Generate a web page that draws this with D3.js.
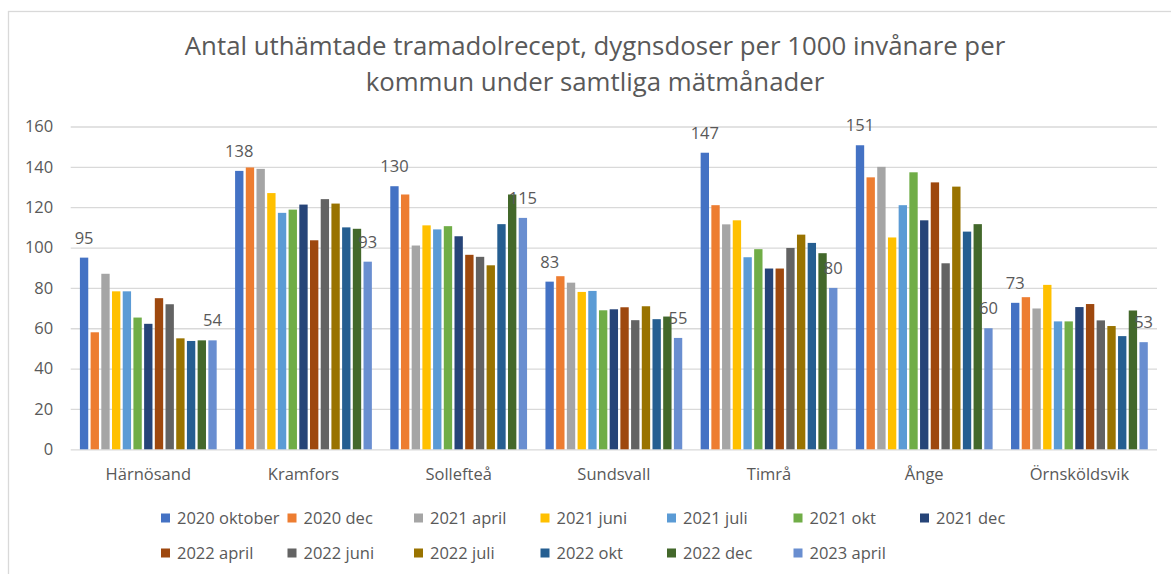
<!DOCTYPE html>
<html>
<head>
<meta charset="utf-8">
<script src="https://cdn.jsdelivr.net/npm/d3@7"></script>
<style>
    body { margin: 0; background: #ffffff; }
    text { font-family: "Open Sans", "Noto Sans", sans-serif; fill: #595959; }
</style>
</head>
<body>
<div id="chart-area"></div>
<script>
// data
var titleLines = ["Antal uthämtade tramadolrecept, dygnsdoser per 1000 invånare per",
    "kommun under samtliga mätmånader"];
var kommuner = ["Härnösand", "Kramfors", "Sollefteå", "Sundsvall", "Timrå", "Ånge", "Örnsköldsvik"];
var matmanader = ["2020 oktober", "2020 dec", "2021 april", "2021 juni", "2021 juli", "2021 okt", "2021 dec",
    "2022 april", "2022 juni", "2022 juli", "2022 okt", "2022 dec", "2023 april"];
var yTicks = [0, 20, 40, 60, 80, 100, 120, 140, 160];

var harnosand    = [95, 58, 87, 78.3, 78.3, 65.3, 62.2, 74.9, 71.9, 55, 53.7, 54, 54];
var kramfors     = [138, 139.7, 139, 127, 117.2, 118.8, 121.3, 103.6, 124, 121.8, 110, 109.3, 93];
var solleftea    = [130.4, 126.3, 101, 111, 109, 110.6, 105.6, 96.4, 95.4, 91.2, 111.6, 126.3, 114.7];
var sundsvall    = [83.1, 85.8, 82.6, 78, 78.5, 68.9, 69.4, 70.4, 64, 70.9, 64.5, 65.8, 55.2];
var timra        = [147, 121, 111.5, 113.5, 95.2, 99.2, 89.6, 89.6, 99.8, 106.4, 102.3, 97.2, 80];
var ange         = [150.7, 134.8, 140, 105, 121, 137.3, 113.5, 132.3, 92.2, 130.2, 107.9, 111.6, 60];
var ornskoldsvik = [72.6, 75.4, 69.8, 81.5, 63.4, 63.4, 70.5, 72, 63.9, 61.1, 56.1, 68.8, 53.1];

var colors = ["#4472C4", "#ED7D31", "#A5A5A5", "#FFC000", "#5B9BD5", "#70AD47", "#264478",
    "#9E480E", "#636363", "#997300", "#255E91", "#43682B", "#698ED0"];

var values = [harnosand, kramfors, solleftea, sundsvall, timra, ange, ornskoldsvik];

BarChart = function(_parentElement){
    vis = this;

    this.parentElement = _parentElement;
    this.svgWidth = 1171;
    this.svgHeight = 574;
    this.margin = { top: 126.5, right: 14, bottom: 124.7, left: 70.7 };
    this.width = vis.svgWidth - vis.margin.left - vis.margin.right;
    this.height = vis.svgHeight - vis.margin.top - vis.margin.bottom;
    this.fontSize = 16.5;

    // one row per kommun, one column per mätmånad
    this.data = kommuner.map(function(k, i) {
        return { kommun: k, values: values[i].map(function(v, j) {
            return { serie: matmanader[j], value: v, index: j };
        }) };
    });

    this.initVis();
};

BarChart.prototype.initVis = function() {
    vis = this;

    vis.svg = d3.select("#" + vis.parentElement).append("svg")
        .attr("width", vis.svgWidth)
        .attr("height", vis.svgHeight);

    // chart frame
    vis.svg.append("rect")
        .attr("x", 8.5).attr("y", 11.5)
        .attr("width", 1300).attr("height", 700)
        .attr("fill", "none")
        .attr("stroke", "#d9d9d9")
        .attr("stroke-width", 1.3);

    vis.svg.selectAll(".title")
        .data(titleLines)
        .enter().append("text")
        .attr("class", "title")
        .attr("x", 595)
        .attr("y", function(d, i) { return 55 + i * 36; })
        .attr("text-anchor", "middle")
        .attr("font-size", "25.8px")
        .text(function(d) { return d; });

    vis.g = vis.svg.append("g")
        .attr("transform", "translate(" + vis.margin.left + "," + vis.margin.top + ")");

    vis.initScales();
    vis.updateVis();
    vis.drawLegend();
};

BarChart.prototype.initScales = function() {
    vis = this;

    vis.x0 = d3.scaleBand()
        .domain(kommuner)
        .range([0, vis.width]);

    vis.x1 = d3.scaleBand()
        .domain(matmanader)
        .range([0, vis.x0.bandwidth()])
        .paddingInner(0.22)
        .paddingOuter(0.86);

    vis.y = d3.scaleLinear()
        .domain([0, 160])
        .range([vis.height, 0]);

    vis.colorScale = d3.scaleOrdinal()
        .domain(matmanader)
        .range(colors);
};

BarChart.prototype.updateVis = function() {
    vis = this;

    var yAxis = d3.axisLeft(vis.y)
        .tickValues(yTicks)
        .tickSize(-vis.width)
        .tickPadding(17.5);

    var yG = vis.g.append("g").attr("class", "y-axis").call(yAxis);
    yG.select(".domain").remove();
    yG.selectAll("line").attr("stroke", "#d9d9d9").attr("stroke-width", 1.3);
    yG.selectAll("text").attr("font-size", vis.fontSize + "px").attr("fill", "#595959")
        .style("font-family", "'Open Sans', sans-serif");

    var xAxis = d3.axisBottom(vis.x0).tickSize(0).tickPadding(19);
    var xG = vis.g.append("g").attr("class", "x-axis")
        .attr("transform", "translate(0," + vis.height + ")")
        .call(xAxis);
    xG.select(".domain").remove();
    xG.selectAll("text").attr("font-size", vis.fontSize + "px").attr("fill", "#595959")
        .style("font-family", "'Open Sans', sans-serif");

    var groups = vis.g.selectAll(".kommun")
        .data(vis.data)
        .enter().append("g")
        .attr("class", "kommun")
        .attr("transform", function(d) { return "translate(" + vis.x0(d.kommun) + ",0)"; });

    groups.selectAll("rect")
        .data(function(d) { return d.values; })
        .enter().append("rect")
        .attr("x", function(d) { return vis.x1(d.serie); })
        .attr("y", function(d) { return vis.y(d.value); })
        .attr("width", vis.x1.bandwidth())
        .attr("height", function(d) { return vis.height - vis.y(d.value); })
        .style("fill", function(d) { return vis.colorScale(d.serie); });

    // data labels only on first and last mätmånad
    groups.selectAll(".label")
        .data(function(d) { return d.values.filter(function(v) {
            return v.index === 0 || v.index === matmanader.length - 1; }); })
        .enter().append("text")
        .attr("class", "label")
        .attr("x", function(d) { return vis.x1(d.serie) + vis.x1.bandwidth() / 2; })
        .attr("y", function(d) { return vis.y(d.value) - 14; })
        .attr("text-anchor", "middle")
        .attr("font-size", vis.fontSize + "px")
        .text(function(d) { return Math.round(d.value); });
};

BarChart.prototype.drawLegend = function() {
    vis = this;

    var perRow = 7;
    var colWidth = 126.5;
    var legend = vis.svg.append("g").attr("class", "legend")
        .attr("transform", "translate(161,0)");

    var items = legend.selectAll(".item")
        .data(matmanader)
        .enter().append("g")
        .attr("class", "item")
        .attr("transform", function(d, i) {
            return "translate(" + (i % perRow) * colWidth + "," + (518 + Math.floor(i / perRow) * 35) + ")";
        });

    items.append("rect")
        .attr("x", 0).attr("y", -4.5)
        .attr("width", 9).attr("height", 9)
        .style("fill", function(d) { return vis.colorScale(d); });

    items.append("text")
        .attr("x", 16)
        .attr("y", 6)
        .attr("font-size", vis.fontSize + "px")
        .text(function(d) { return d; });
};

new BarChart("chart-area");
</script>
</body>
</html>
